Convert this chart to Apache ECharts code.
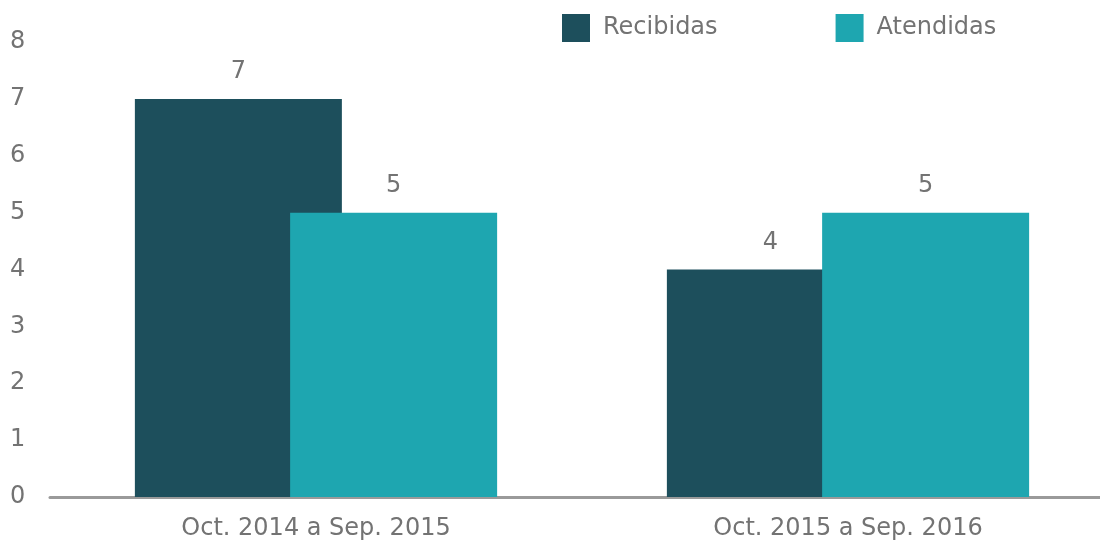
<!DOCTYPE html>
<html><head><meta charset="utf-8">
<script src="https://cdn.jsdelivr.net/npm/echarts@6/dist/echarts.min.js"></script>
<style>html,body{margin:0;padding:0;background:#fff}#c{width:1100px;height:544px}</style>
</head><body><div id="c"></div>
<script>
const categories = ['Oct. 2014 a Sep. 2015', 'Oct. 2015 a Sep. 2016'];
const recibidas = [7, 4];
const atendidas = [5, 5];
const yTicks = [0, 1, 2, 3, 4, 5, 6, 7, 8];
const font = '"DejaVu Sans"';
const fw = 'normal';
const fs = 24;
const tc = '#737373';
const chart = echarts.init(document.getElementById('c'));
chart.setOption({
  animation: false,
  textStyle: { fontFamily: font },
  legend: {
    top: 9, left: 557, itemWidth: 28, itemHeight: 28, itemGap: 118,
    icon: 'rect',
    textStyle: { fontSize: fs, color: tc, fontFamily: font, fontWeight: fw, padding: [0, 0, 0, 8] },
    data: ['Recibidas', 'Atendidas']
  },
  grid: { left: 50, right: -14, top: 42, bottom: 47, outerBoundsMode: 'none', containLabel: false },
  xAxis: {
    type: 'category', data: categories,
    axisLine: { lineStyle: { color: '#9a9a9a', width: 3 } },
    axisTick: { show: false },
    axisLabel: { fontSize: fs, color: tc, margin: 20, fontFamily: font, fontWeight: fw }
  },
  yAxis: {
    type: 'value', min: yTicks[0], max: yTicks[yTicks.length - 1], interval: 1,
    splitLine: { show: false },
    axisLine: { show: false },
    axisLabel: { fontSize: fs, color: tc, align: 'left', margin: 40, fontFamily: font, fontWeight: fw }
  },
  series: [
    { name: 'Recibidas', type: 'bar', data: recibidas, barWidth: 207, barGap: '-25%',
      itemStyle: { color: '#1d4f5c' },
      label: { show: true, position: 'top', distance: 15, fontSize: fs, color: tc, fontFamily: font, fontWeight: fw } },
    { name: 'Atendidas', type: 'bar', data: atendidas, barWidth: 207,
      itemStyle: { color: '#1ea6b0' },
      label: { show: true, position: 'top', distance: 15, fontSize: fs, color: tc, fontFamily: font, fontWeight: fw } }
  ]
});
</script></body></html>
